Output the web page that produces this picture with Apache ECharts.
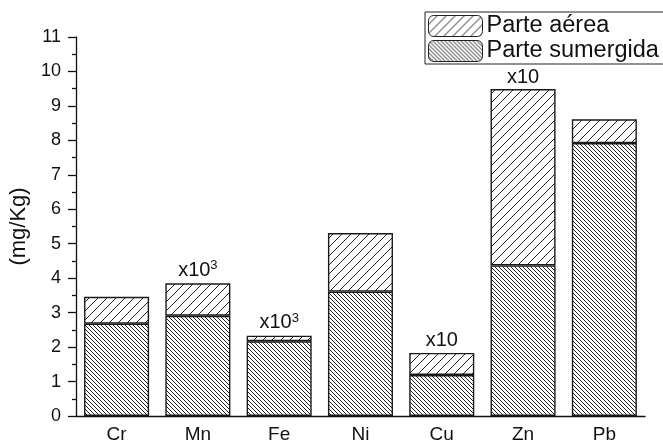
<!DOCTYPE html>
<html>
<head>
<meta charset="utf-8">
<script src="https://cdn.jsdelivr.net/npm/echarts@6/dist/echarts.min.js"></script>
<style>
  html, body { margin: 0; padding: 0; background: #fff; }
  #chart { width: 663px; height: 444px; }
</style>
</head>
<body>
<div id="chart"></div>
<script>
// Metals on the category axis
const metals = ['Cr', 'Mn', 'Fe', 'Ni', 'Cu', 'Zn', 'Pb'];
// Submerged part (bottom of each stack), mg/Kg
const parteSumergida = [2.68, 2.91, 2.17, 3.61, 1.19, 4.37, 7.92];
// Aerial part (stacked on top), mg/Kg
const parteAerea = [0.78, 0.94, 0.16, 1.70, 0.64, 5.12, 0.69];
// Scale notes written above some stacks
const scaleNotes = ['', 'x10^3', 'x10^3', '', 'x10', 'x10', ''];
// Y axis range and step
const yMin = 0, yMax = 11, yStep = 1;

const FONT = '"Liberation Sans", Arial, sans-serif';
const INK = '#111';

// Diagonal hatch tile; dir = 1 draws "/", dir = -1 draws "\"
function hatch(size, dir, width) {
  const c = document.createElement('canvas');
  c.width = size; c.height = size;
  const g = c.getContext('2d');
  g.fillStyle = '#fff';
  g.fillRect(0, 0, size, size);
  g.strokeStyle = '#222';
  g.lineWidth = width;
  g.beginPath();
  for (let k = -1; k <= 1; k++) {
    if (dir > 0) {
      g.moveTo(k * size, size); g.lineTo(k * size + size, 0);
    } else {
      g.moveTo(k * size, 0); g.lineTo(k * size + size, size);
    }
  }
  g.stroke();
  return { image: c, repeat: 'repeat' };
}

const aereaFill = hatch(9, 1, 1);
const sumergidaFill = hatch(4, -1, 1);

function noteText(i) {
  const n = scaleNotes[i];
  if (!n) return '';
  const parts = n.split('^');
  return parts.length > 1 ? '{b|' + parts[0] + '}{s|' + parts[1] + '}' : '{b|' + n + '}';
}

const chart = echarts.init(document.getElementById('chart'), null, { renderer: 'canvas' });
chart.setOption({
  animation: false,
  backgroundColor: '#fff',
  textStyle: { fontFamily: FONT, color: INK },
  grid: { left: 75, right: 18, top: 37, bottom: 28, containLabel: false },
  legend: {
    orient: 'vertical',
    left: 425,
    top: 12,
    padding: [2, 20, 1, 3],
    itemGap: 1,
    itemWidth: 54,
    itemHeight: 21,
    borderColor: '#222',
    borderWidth: 1,
    itemStyle: { borderColor: '#222', borderWidth: 1 },
    textStyle: { fontFamily: FONT, fontSize: 23.5, color: INK, padding: [0, 0, 0, -1] },
    data: ['Parte aérea', 'Parte sumergida']
  },
  xAxis: {
    type: 'category',
    data: metals,
    axisLine: { lineStyle: { color: INK, width: 1.3 } },
    axisTick: { alignWithLabel: true, length: 7, lineStyle: { color: INK, width: 1.3 } },
    axisLabel: { fontFamily: FONT, fontSize: 19, color: INK, margin: 9 }
  },
  yAxis: {
    type: 'value',
    min: yMin,
    max: yMax,
    interval: yStep,
    name: '(mg/Kg)',
    nameLocation: 'middle',
    nameRotate: 90,
    nameGap: 43,
    nameTextStyle: { fontFamily: FONT, fontSize: 22, color: INK },
    axisLine: { show: true, lineStyle: { color: INK, width: 1.3 } },
    axisTick: { show: true, length: 8, lineStyle: { color: INK, width: 1.3 } },
    minorTick: { show: true, splitNumber: 2, length: 4, lineStyle: { color: INK, width: 1.3 } },
    splitLine: { show: false },
    axisLabel: { fontFamily: FONT, fontSize: 18, color: INK, margin: 15 }
  },
  series: [
    {
      name: 'Parte sumergida',
      type: 'bar',
      stack: 'total',
      barCategoryGap: '20%',
      data: parteSumergida,
      itemStyle: { color: sumergidaFill, borderColor: '#1a1a1a', borderWidth: 1.4 }
    },
    {
      name: 'Parte aérea',
      type: 'bar',
      stack: 'total',
      barCategoryGap: '20%',
      data: parteAerea,
      itemStyle: { color: aereaFill, borderColor: '#1a1a1a', borderWidth: 1.4 },
      label: {
        show: true,
        position: 'top',
        distance: 2,
        formatter: p => noteText(p.dataIndex),
        rich: {
          b: { fontFamily: FONT, fontSize: 20, color: INK },
          s: { fontFamily: FONT, fontSize: 13, color: INK, verticalAlign: 'top', padding: [0, 0, 9, 0] }
        }
      }
    }
  ]
});
</script>
</body>
</html>
